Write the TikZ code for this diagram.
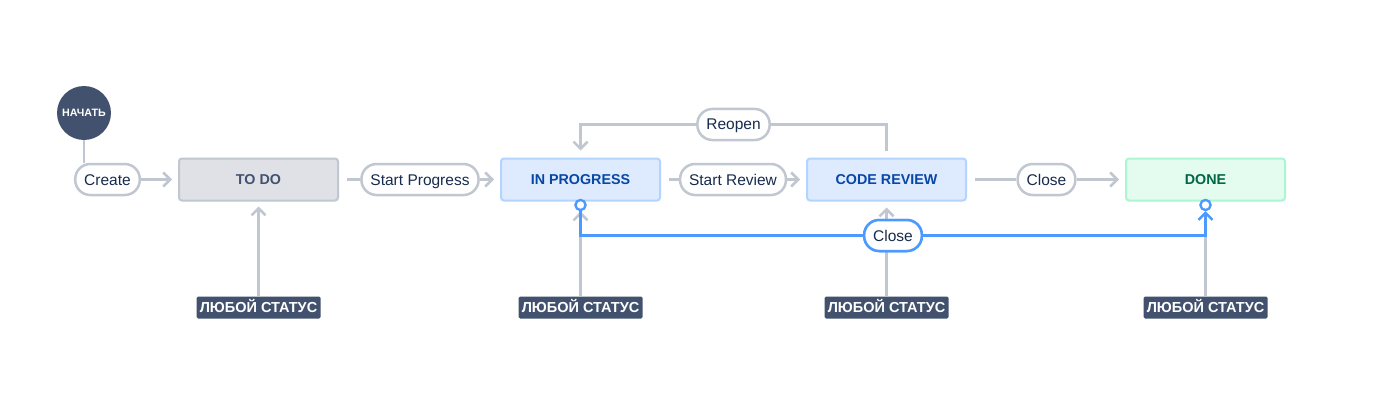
\documentclass[tikz,border=0pt]{standalone}
\usepackage{fontspec}
\setmainfont{Liberation Sans}
\usetikzlibrary{arrows.meta}
\definecolor{lgray}{HTML}{C1C7D0}
\definecolor{dtext}{HTML}{172B4D}
\definecolor{navy}{HTML}{42526E}
\definecolor{jblue}{HTML}{4C9AFF}
\definecolor{todofill}{HTML}{DFE1E6}
\definecolor{progfill}{HTML}{DEEBFF}
\definecolor{progdraw}{HTML}{B3D4FF}
\definecolor{progtext}{HTML}{0747A6}
\definecolor{donefill}{HTML}{E3FCEF}
\definecolor{donedraw}{HTML}{ABF5D1}
\definecolor{donetext}{HTML}{006644}
\tikzset{
  statebox/.style={rectangle, rounded corners=3pt, line width=2pt, minimum width=159pt, minimum height=42pt, text height=10.3pt, text depth=0pt, font=\fontsize{14.3}{16}\selectfont\bfseries},
  pill/.style={rectangle, rounded corners=15pt, draw=lgray, line width=2.5pt, fill=white, minimum height=31pt, inner xsep=9pt, inner ysep=0pt, text height=11pt, text depth=0pt, text=dtext, font=\fontsize{15.5}{18}\selectfont},
  conn/.style={draw=lgray, line width=2.5pt},
  arr/.style={-{Straight Barb[length=7pt,width=14pt]}},
  anylabel/.style={rectangle, rounded corners=1.5pt, fill=navy, text=white, minimum width=124pt, minimum height=22pt, inner sep=0pt, text height=10.4pt, text depth=0pt, font=\fontsize{14.5}{16}\selectfont\bfseries},
  bluecon/.style={draw=jblue, line width=2.5pt},
  endcirc/.style={circle, draw=jblue, fill=white, line width=2.2pt, minimum size=10pt, inner sep=0pt}
}
\begin{document}
\begin{tikzpicture}[x=1pt,y=-1pt]
\useasboundingbox[fill=white] (0,0) rectangle (1383,417);
% states
\node[statebox, fill=todofill, draw=lgray, text=navy] (todo) at (258.5,179.5) {TO DO};
\node[statebox, fill=progfill, draw=progdraw, text=progtext] (inprog) at (580.5,179.5) {IN PROGRESS};
\node[statebox, fill=progfill, draw=progdraw, text=progtext] (review) at (886.5,179.5) {CODE REVIEW};
\node[statebox, fill=donefill, draw=donedraw, text=donetext] (done) at (1205.5,179.5) {DONE};
% start
\node[circle, fill=navy, minimum size=54pt, inner sep=0pt, text=white, font=\fontsize{10.7}{12}\selectfont\bfseries] (start) at (84,113) {НАЧАТЬ};
% any status labels
\node[anylabel] (any1) at (258.5,307.5) {ЛЮБОЙ СТАТУС};
\node[anylabel] (any2) at (580.5,307.5) {ЛЮБОЙ СТАТУС};
\node[anylabel] (any3) at (886.5,307.5) {ЛЮБОЙ СТАТУС};
\node[anylabel] (any4) at (1205.5,307.5) {ЛЮБОЙ СТАТУС};
% transition pills
\node[pill] (create) at (107.5,179.5) {Create};
\node[pill] (sprog) at (420,179.5) {Start Progress};
\node[pill] (srev) at (733,179.5) {Start Review};
\node[pill] (close1) at (1046.5,179.5) {Close};
\node[pill] (reopen) at (733.5,124.5) {Reopen};
% connectors
\draw[conn] (start.south) -- (start.south |- create.north);
\draw[conn, arr] (create.east) -- ([xshift=-6pt]todo.west);
\draw[conn] ([xshift=8pt]todo.east) -- (sprog.west);
\draw[conn, arr] (sprog.east) -- ([xshift=-6pt]inprog.west);
\draw[conn] ([xshift=8pt]inprog.east) -- (srev.west);
\draw[conn, arr] (srev.east) -- ([xshift=-6pt]review.west);
\draw[conn] ([xshift=8pt]review.east) -- (close1.west);
\draw[conn, arr] (close1.east) -- ([xshift=-6pt]done.west);
\draw[conn] ([yshift=7pt]review.north) |- (reopen.east);
\draw[conn, arr] (reopen.west) -| ([yshift=7pt]inprog.north);
\draw[conn, arr] (any1.north) -- ([yshift=-5pt]todo.south);
\draw[conn, arr] (any2.north) -- ([yshift=-10pt]inprog.south);
\draw[conn, arr] (any3.north) -- ([yshift=-6pt]review.south);
% blue close connector
\node[endcirc] (c1) at (580.5,205) {};
\node[endcirc] (c2) at (1205.5,205) {};
\node[pill, draw=jblue] (close2) at (893,235.5) {Close};
\draw[conn] (any4.north) -- (any4.north |- close2.center);
\draw[bluecon] (c1.south) |- (close2.west);
\draw[bluecon, arr] (close2.east) -| (c2.south);
\node[endcirc] at (c1) {};
\node[endcirc] at (c2) {};
\node[pill, draw=jblue] at (close2) {Close};
\end{tikzpicture}
\end{document}
